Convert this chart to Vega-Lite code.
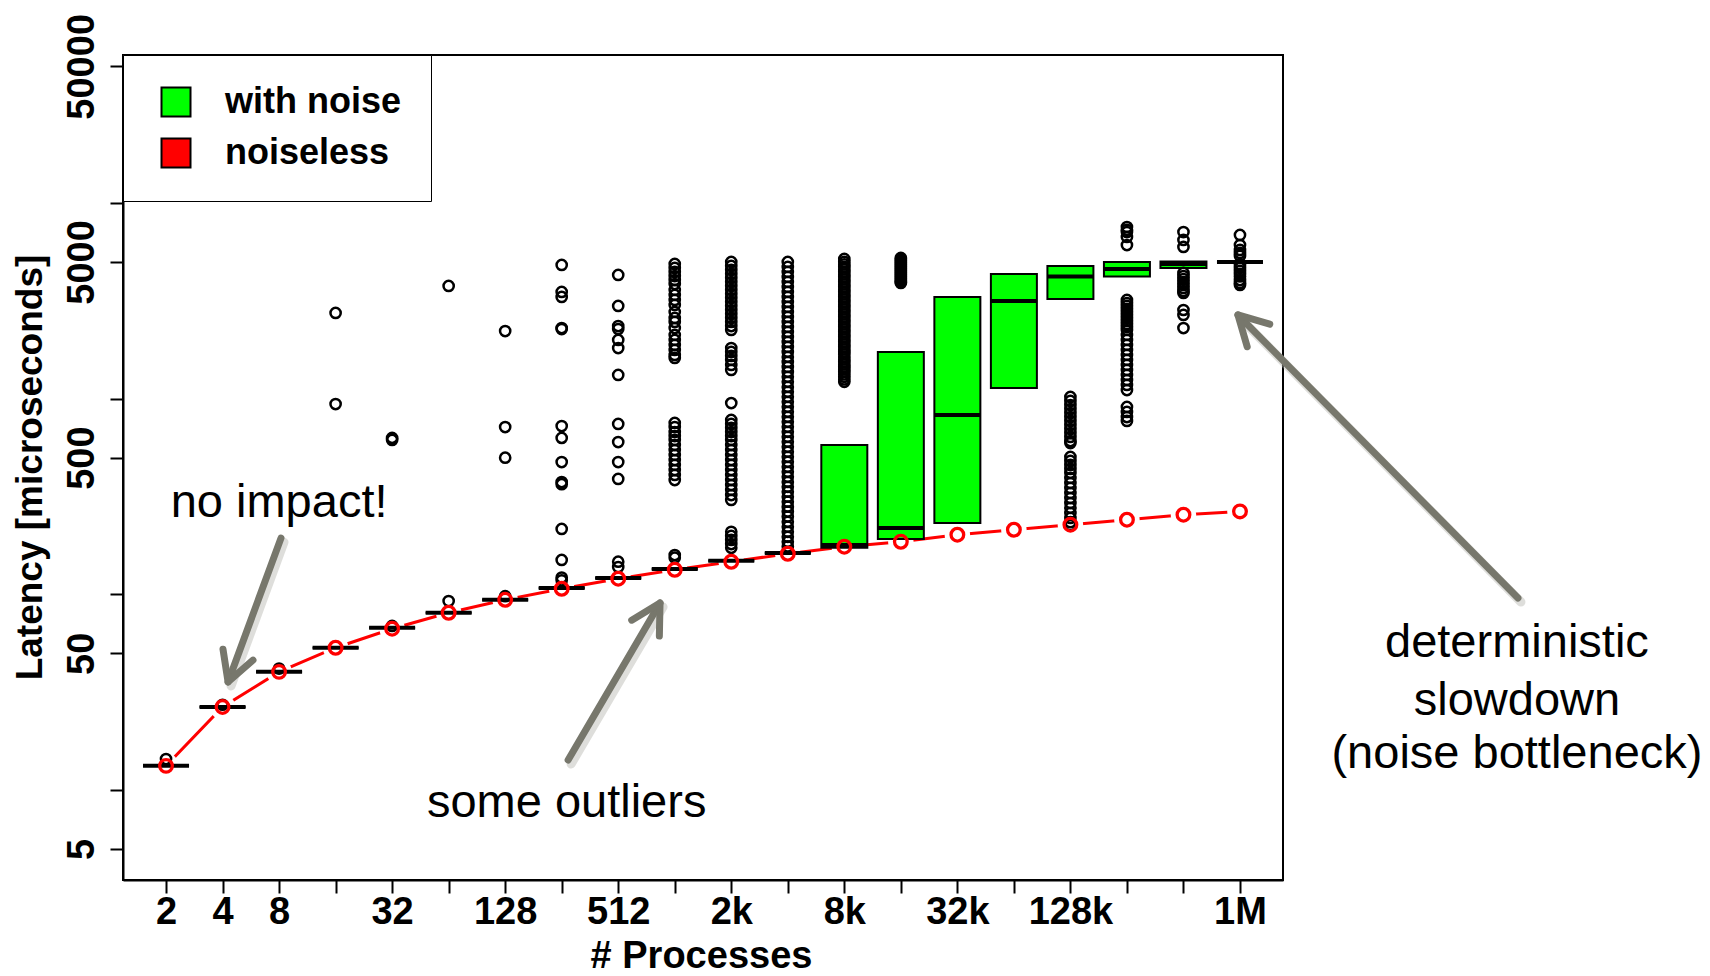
{
  "$schema": "https://vega.github.io/schema/vega-lite/v6.json",
  "width": 1160,
  "height": 825,
  "autosize": {"type": "none"},
  "padding": {"left": 123, "top": 55, "right": 427, "bottom": 96},
  "background": "white",
  "config": {
    "view": {"stroke": "black", "strokeWidth": 2},
    "font": "Liberation Sans",
    "scale": {"continuousPadding": 0},
    "legend": {
      "orient": "none", "legendX": 0, "legendY": 0,
      "padding": 29, "strokeColor": "black", "fillColor": "white",
      "labelFont": "Liberation Sans", "labelFontSize": 36, "labelFontWeight": "bold", "labelColor": "black", "labelLimit": 0,
      "symbolType": "square", "symbolSize": 841, "symbolStrokeColor": "black", "symbolStrokeWidth": 2,
      "labelOffset": 31, "rowPadding": 13, "symbolOffset": 6
    }
  },
  "datasets": {
    "noiseless": [
      {"procs": 2, "latency": 13.3}, {"procs": 4, "latency": 26.6}, {"procs": 8, "latency": 40.2},
      {"procs": 16, "latency": 53.4}, {"procs": 32, "latency": 66.8}, {"procs": 64, "latency": 80.6},
      {"procs": 128, "latency": 93.9}, {"procs": 256, "latency": 106.9}, {"procs": 512, "latency": 120.3},
      {"procs": 1024, "latency": 133.7}, {"procs": 2048, "latency": 146.9}, {"procs": 4096, "latency": 161.4},
      {"procs": 8192, "latency": 175.3}, {"procs": 16384, "latency": 185.9}, {"procs": 32768, "latency": 201.9},
      {"procs": 65536, "latency": 214.1}, {"procs": 131072, "latency": 227.1}, {"procs": 262144, "latency": 240.9},
      {"procs": 524288, "latency": 255.5}, {"procs": 1048576, "latency": 265.6}
    ],
    "boxes": [
      {"procs": 2, "q1": 13.3, "median": 13.3, "q3": 13.3, "series": "with noise"},
      {"procs": 4, "q1": 26.6, "median": 26.6, "q3": 26.6, "series": "with noise"},
      {"procs": 8, "q1": 40.2, "median": 40.2, "q3": 40.2, "series": "with noise"},
      {"procs": 16, "q1": 53.4, "median": 53.4, "q3": 53.4, "series": "with noise"},
      {"procs": 32, "q1": 67.5, "median": 67.5, "q3": 67.5, "series": "with noise"},
      {"procs": 64, "q1": 80.6, "median": 80.6, "q3": 80.6, "series": "with noise"},
      {"procs": 128, "q1": 93.9, "median": 93.9, "q3": 93.9, "series": "with noise"},
      {"procs": 256, "q1": 107.8, "median": 107.8, "q3": 107.8, "series": "with noise"},
      {"procs": 512, "q1": 121.2, "median": 121.2, "q3": 121.2, "series": "with noise"},
      {"procs": 1024, "q1": 134.8, "median": 134.8, "q3": 134.8, "series": "with noise"},
      {"procs": 2048, "q1": 148.7, "median": 148.7, "q3": 148.7, "series": "with noise"},
      {"procs": 4096, "q1": 162.7, "median": 162.7, "q3": 162.7, "series": "with noise"},
      {"procs": 8192, "q1": 173, "median": 179, "q3": 580, "series": "with noise"},
      {"procs": 16384, "q1": 192, "median": 218.5, "q3": 1734, "series": "with noise"},
      {"procs": 32768, "q1": 232, "median": 826, "q3": 3314, "series": "with noise"},
      {"procs": 65536, "q1": 1135, "median": 3159, "q3": 4342, "series": "with noise"},
      {"procs": 131072, "q1": 3235, "median": 4216, "q3": 4771, "series": "with noise"},
      {"procs": 262144, "q1": 4216, "median": 4605, "q3": 5000, "series": "with noise"},
      {"procs": 524288, "q1": 4659, "median": 4884, "q3": 5030, "series": "with noise"},
      {"procs": 1048576, "q1": 5000, "median": 5000, "q3": 5000, "series": "with noise"}
    ],
    "outliers": [
      {"procs": 2, "latency": 14.4}, {"procs": 4, "latency": 27.3}, {"procs": 8, "latency": 41.8},
      {"procs": 16, "latency": 2744}, {"procs": 16, "latency": 939},
      {"procs": 32, "latency": 631}, {"procs": 32, "latency": 616}, {"procs": 32, "latency": 69},
      {"procs": 64, "latency": 3770}, {"procs": 64, "latency": 92.5},
      {"procs": 128, "latency": 2219}, {"procs": 128, "latency": 717}, {"procs": 128, "latency": 500}, {"procs": 128, "latency": 98},
      {"procs": 256, "latency": 4827}, {"procs": 256, "latency": 3514}, {"procs": 256, "latency": 3314}, {"procs": 256, "latency": 2299},
      {"procs": 256, "latency": 2272}, {"procs": 256, "latency": 725}, {"procs": 256, "latency": 631}, {"procs": 256, "latency": 475},
      {"procs": 256, "latency": 375}, {"procs": 256, "latency": 366}, {"procs": 256, "latency": 216}, {"procs": 256, "latency": 150},
      {"procs": 256, "latency": 122}, {"procs": 256, "latency": 118},
      {"procs": 512, "latency": 4291}, {"procs": 512, "latency": 2980}, {"procs": 512, "latency": 2354}, {"procs": 512, "latency": 2272},
      {"procs": 512, "latency": 1997}, {"procs": 512, "latency": 1817}, {"procs": 512, "latency": 1323}, {"procs": 512, "latency": 744},
      {"procs": 512, "latency": 601}, {"procs": 512, "latency": 475}, {"procs": 512, "latency": 389}, {"procs": 512, "latency": 147},
      {"procs": 512, "latency": 138},
      {"procs": 1024, "latency": 4884}, {"procs": 1024, "latency": 4659}, {"procs": 1024, "latency": 4445}, {"procs": 1024, "latency": 4240},
      {"procs": 1024, "latency": 4045}, {"procs": 1024, "latency": 3859}, {"procs": 1024, "latency": 3597}, {"procs": 1024, "latency": 3392},
      {"procs": 1024, "latency": 3197}, {"procs": 1024, "latency": 3015}, {"procs": 1024, "latency": 2776}, {"procs": 1024, "latency": 2587},
      {"procs": 1024, "latency": 2468}, {"procs": 1024, "latency": 2299}, {"procs": 1024, "latency": 2118}, {"procs": 1024, "latency": 1997},
      {"procs": 1024, "latency": 1883}, {"procs": 1024, "latency": 1775}, {"procs": 1024, "latency": 1674}, {"procs": 1024, "latency": 1616},
      {"procs": 1024, "latency": 752}, {"procs": 1024, "latency": 717}, {"procs": 1024, "latency": 676}, {"procs": 1024, "latency": 645},
      {"procs": 1024, "latency": 616}, {"procs": 1024, "latency": 580}, {"procs": 1024, "latency": 547}, {"procs": 1024, "latency": 516},
      {"procs": 1024, "latency": 486}, {"procs": 1024, "latency": 459}, {"procs": 1024, "latency": 432}, {"procs": 1024, "latency": 408},
      {"procs": 1024, "latency": 384}, {"procs": 1024, "latency": 159}, {"procs": 1024, "latency": 154},
      {"procs": 2048, "latency": 5000}, {"procs": 2048, "latency": 4771}, {"procs": 2048, "latency": 4551}, {"procs": 2048, "latency": 4342},
      {"procs": 2048, "latency": 4142}, {"procs": 2048, "latency": 3950}, {"procs": 2048, "latency": 3770}, {"procs": 2048, "latency": 3597},
      {"procs": 2048, "latency": 3431}, {"procs": 2048, "latency": 3273}, {"procs": 2048, "latency": 3123}, {"procs": 2048, "latency": 2980},
      {"procs": 2048, "latency": 2842}, {"procs": 2048, "latency": 2712}, {"procs": 2048, "latency": 2587}, {"procs": 2048, "latency": 2468},
      {"procs": 2048, "latency": 2354}, {"procs": 2048, "latency": 2246}, {"procs": 2048, "latency": 1817}, {"procs": 2048, "latency": 1734},
      {"procs": 2048, "latency": 1654}, {"procs": 2048, "latency": 1578}, {"procs": 2048, "latency": 1488}, {"procs": 2048, "latency": 1403},
      {"procs": 2048, "latency": 950}, {"procs": 2048, "latency": 779}, {"procs": 2048, "latency": 744}, {"procs": 2048, "latency": 709},
      {"procs": 2048, "latency": 676}, {"procs": 2048, "latency": 645}, {"procs": 2048, "latency": 616}, {"procs": 2048, "latency": 580},
      {"procs": 2048, "latency": 547}, {"procs": 2048, "latency": 516}, {"procs": 2048, "latency": 486}, {"procs": 2048, "latency": 459},
      {"procs": 2048, "latency": 432}, {"procs": 2048, "latency": 408}, {"procs": 2048, "latency": 384}, {"procs": 2048, "latency": 362},
      {"procs": 2048, "latency": 342}, {"procs": 2048, "latency": 322}, {"procs": 2048, "latency": 304}, {"procs": 2048, "latency": 209},
      {"procs": 2048, "latency": 199}, {"procs": 2048, "latency": 190}, {"procs": 2048, "latency": 181}, {"procs": 2048, "latency": 173},
      {"procs": 4096, "latency": 5000}, {"procs": 4096, "latency": 4715}, {"procs": 4096, "latency": 4445}, {"procs": 4096, "latency": 4192},
      {"procs": 4096, "latency": 3952}, {"procs": 4096, "latency": 3727}, {"procs": 4096, "latency": 3514}, {"procs": 4096, "latency": 3313},
      {"procs": 4096, "latency": 3124}, {"procs": 4096, "latency": 2946}, {"procs": 4096, "latency": 2778}, {"procs": 4096, "latency": 2619},
      {"procs": 4096, "latency": 2470}, {"procs": 4096, "latency": 2329}, {"procs": 4096, "latency": 2196}, {"procs": 4096, "latency": 2070},
      {"procs": 4096, "latency": 1952}, {"procs": 4096, "latency": 1841}, {"procs": 4096, "latency": 1736}, {"procs": 4096, "latency": 1637},
      {"procs": 4096, "latency": 1543}, {"procs": 4096, "latency": 1455}, {"procs": 4096, "latency": 1372}, {"procs": 4096, "latency": 1294},
      {"procs": 4096, "latency": 1220}, {"procs": 4096, "latency": 1150}, {"procs": 4096, "latency": 1085}, {"procs": 4096, "latency": 1023},
      {"procs": 4096, "latency": 964}, {"procs": 4096, "latency": 909}, {"procs": 4096, "latency": 857}, {"procs": 4096, "latency": 808},
      {"procs": 4096, "latency": 762}, {"procs": 4096, "latency": 719}, {"procs": 4096, "latency": 678}, {"procs": 4096, "latency": 639},
      {"procs": 4096, "latency": 603}, {"procs": 4096, "latency": 568}, {"procs": 4096, "latency": 536}, {"procs": 4096, "latency": 505},
      {"procs": 4096, "latency": 476}, {"procs": 4096, "latency": 449}, {"procs": 4096, "latency": 423}, {"procs": 4096, "latency": 399},
      {"procs": 4096, "latency": 376}, {"procs": 4096, "latency": 355}, {"procs": 4096, "latency": 335}, {"procs": 4096, "latency": 316},
      {"procs": 4096, "latency": 298}, {"procs": 4096, "latency": 281}, {"procs": 4096, "latency": 265}, {"procs": 4096, "latency": 250},
      {"procs": 4096, "latency": 235}, {"procs": 4096, "latency": 222}, {"procs": 4096, "latency": 209}, {"procs": 4096, "latency": 197},
      {"procs": 4096, "latency": 186}, {"procs": 4096, "latency": 176},
      {"procs": 8192, "latency": 5180}, {"procs": 8192, "latency": 5000}, {"procs": 8192, "latency": 4855}, {"procs": 8192, "latency": 4715},
      {"procs": 8192, "latency": 4578}, {"procs": 8192, "latency": 4445}, {"procs": 8192, "latency": 4316}, {"procs": 8192, "latency": 4192},
      {"procs": 8192, "latency": 4070}, {"procs": 8192, "latency": 3952}, {"procs": 8192, "latency": 3837}, {"procs": 8192, "latency": 3727},
      {"procs": 8192, "latency": 3619}, {"procs": 8192, "latency": 3514}, {"procs": 8192, "latency": 3412}, {"procs": 8192, "latency": 3313},
      {"procs": 8192, "latency": 3217}, {"procs": 8192, "latency": 3124}, {"procs": 8192, "latency": 3033}, {"procs": 8192, "latency": 2946},
      {"procs": 8192, "latency": 2860}, {"procs": 8192, "latency": 2778}, {"procs": 8192, "latency": 2697}, {"procs": 8192, "latency": 2619},
      {"procs": 8192, "latency": 2543}, {"procs": 8192, "latency": 2470}, {"procs": 8192, "latency": 2398}, {"procs": 8192, "latency": 2329},
      {"procs": 8192, "latency": 2261}, {"procs": 8192, "latency": 2196}, {"procs": 8192, "latency": 2132}, {"procs": 8192, "latency": 2070},
      {"procs": 8192, "latency": 2010}, {"procs": 8192, "latency": 1952}, {"procs": 8192, "latency": 1895}, {"procs": 8192, "latency": 1841},
      {"procs": 8192, "latency": 1787}, {"procs": 8192, "latency": 1736}, {"procs": 8192, "latency": 1686}, {"procs": 8192, "latency": 1637},
      {"procs": 8192, "latency": 1589}, {"procs": 8192, "latency": 1543}, {"procs": 8192, "latency": 1498}, {"procs": 8192, "latency": 1455},
      {"procs": 8192, "latency": 1413}, {"procs": 8192, "latency": 1372}, {"procs": 8192, "latency": 1332}, {"procs": 8192, "latency": 1294},
      {"procs": 8192, "latency": 1256}, {"procs": 8192, "latency": 1220},
      {"procs": 16384, "latency": 5241}, {"procs": 16384, "latency": 5119}, {"procs": 16384, "latency": 5000}, {"procs": 16384, "latency": 4884},
      {"procs": 16384, "latency": 4771}, {"procs": 16384, "latency": 4660}, {"procs": 16384, "latency": 4551}, {"procs": 16384, "latency": 4445},
      {"procs": 16384, "latency": 4342}, {"procs": 16384, "latency": 4240}, {"procs": 16384, "latency": 4142}, {"procs": 16384, "latency": 4045},
      {"procs": 16384, "latency": 3950}, {"procs": 16384, "latency": 3905},
      {"procs": 131072, "latency": 1021}, {"procs": 131072, "latency": 975}, {"procs": 131072, "latency": 929}, {"procs": 131072, "latency": 886},
      {"procs": 131072, "latency": 845}, {"procs": 131072, "latency": 806}, {"procs": 131072, "latency": 770}, {"procs": 131072, "latency": 734},
      {"procs": 131072, "latency": 700}, {"procs": 131072, "latency": 668}, {"procs": 131072, "latency": 638}, {"procs": 131072, "latency": 608},
      {"procs": 131072, "latency": 594}, {"procs": 131072, "latency": 504}, {"procs": 131072, "latency": 481}, {"procs": 131072, "latency": 459},
      {"procs": 131072, "latency": 438}, {"procs": 131072, "latency": 418}, {"procs": 131072, "latency": 394}, {"procs": 131072, "latency": 371},
      {"procs": 131072, "latency": 350}, {"procs": 131072, "latency": 330}, {"procs": 131072, "latency": 311}, {"procs": 131072, "latency": 293},
      {"procs": 131072, "latency": 277}, {"procs": 131072, "latency": 261}, {"procs": 131072, "latency": 246}, {"procs": 131072, "latency": 234},
      {"procs": 131072, "latency": 226},
      {"procs": 262144, "latency": 7545}, {"procs": 262144, "latency": 7300}, {"procs": 262144, "latency": 7116}, {"procs": 262144, "latency": 6711},
      {"procs": 262144, "latency": 6106}, {"procs": 262144, "latency": 3197}, {"procs": 262144, "latency": 3086}, {"procs": 262144, "latency": 2980},
      {"procs": 262144, "latency": 2876}, {"procs": 262144, "latency": 2776}, {"procs": 262144, "latency": 2680}, {"procs": 262144, "latency": 2587},
      {"procs": 262144, "latency": 2497}, {"procs": 262144, "latency": 2411}, {"procs": 262144, "latency": 2327}, {"procs": 262144, "latency": 2246},
      {"procs": 262144, "latency": 2118}, {"procs": 262144, "latency": 1997}, {"procs": 262144, "latency": 1883}, {"procs": 262144, "latency": 1775},
      {"procs": 262144, "latency": 1674}, {"procs": 262144, "latency": 1578}, {"procs": 262144, "latency": 1488}, {"procs": 262144, "latency": 1403},
      {"procs": 262144, "latency": 1323}, {"procs": 262144, "latency": 1247}, {"procs": 262144, "latency": 1176}, {"procs": 262144, "latency": 1108},
      {"procs": 262144, "latency": 908}, {"procs": 262144, "latency": 856}, {"procs": 262144, "latency": 806}, {"procs": 262144, "latency": 770},
      {"procs": 524288, "latency": 7116}, {"procs": 524288, "latency": 6479}, {"procs": 524288, "latency": 5965}, {"procs": 524288, "latency": 4393},
      {"procs": 524288, "latency": 4240}, {"procs": 524288, "latency": 4093}, {"procs": 524288, "latency": 3950}, {"procs": 524288, "latency": 3815},
      {"procs": 524288, "latency": 3682}, {"procs": 524288, "latency": 3554}, {"procs": 524288, "latency": 3472}, {"procs": 524288, "latency": 2842},
      {"procs": 524288, "latency": 2680}, {"procs": 524288, "latency": 2299},
      {"procs": 1048576, "latency": 6872}, {"procs": 1048576, "latency": 6106}, {"procs": 1048576, "latency": 5761}, {"procs": 1048576, "latency": 5561},
      {"procs": 1048576, "latency": 5370}, {"procs": 1048576, "latency": 4827}, {"procs": 1048576, "latency": 4660}, {"procs": 1048576, "latency": 4500},
      {"procs": 1048576, "latency": 4342}, {"procs": 1048576, "latency": 4216}, {"procs": 1048576, "latency": 4045}, {"procs": 1048576, "latency": 3905},
      {"procs": 1048576, "latency": 3815}
    ],
    "arrows": [
      {"fromProcs": 8.19, "fromLatency": 194, "toProcs": 4.28, "toLatency": 35.7, "heading": 200},
      {"fromProcs": 277, "fromLatency": 14.25, "toProcs": 855, "toLatency": 90.4, "heading": 30},
      {"fromProcs": 31700000, "fromLatency": 95.9, "toProcs": 1023000, "toLatency": 2680, "heading": 315}
    ],
    "notes": [
      {"procs": 8, "latency": 248.7, "text": "no impact!"},
      {"procs": 272, "latency": 7.29, "text": "some outliers"},
      {"procs": 31300000, "latency": 47.9, "text": "deterministic"},
      {"procs": 31300000, "latency": 24.2, "text": "slowdown"},
      {"procs": 31300000, "latency": 12.97, "text": "(noise bottleneck)"}
    ]
  },
  "layer": [
    {
      "data": {"name": "noiseless"},
      "mark": {"type": "line", "color": "#ff0000", "strokeWidth": 3},
      "encoding": {
        "x": {
          "field": "procs", "type": "quantitative",
          "scale": {"type": "log", "base": 2, "domain": [1.18, 1777000], "nice": false, "padding": 0},
          "axis": {
            "title": "# Processes",
            "values": [2, 4, 8, 16, 32, 64, 128, 256, 512, 1024, 2048, 4096, 8192, 16384, 32768, 65536, 131072, 262144, 524288, 1048576],
            "labelExpr": "datum.value==2||datum.value==4||datum.value==8||datum.value==32||datum.value==128||datum.value==512 ? ''+datum.value : datum.value==2048 ? '2k' : datum.value==8192 ? '8k' : datum.value==32768 ? '32k' : datum.value==131072 ? '128k' : datum.value==1048576 ? '1M' : ''",
            "labelOverlap": false, "labelFlush": false, "labelBound": false, "grid": false,
            "tickSize": 13, "tickWidth": 2, "tickColor": "black", "domainColor": "black", "domainWidth": 2,
            "labelFont": "Liberation Sans", "labelFontSize": 38, "labelFontWeight": "bold", "labelColor": "black",
            "labelAngle": 0, "labelAlign": "center", "labelBaseline": "alphabetic", "labelPadding": 30,
            "titleFont": "Liberation Sans", "titleFontSize": 38, "titleFontWeight": "bold", "titleColor": "black",
            "titleX": 578, "titleY": 87, "titleAlign": "center", "titleBaseline": "alphabetic"
          }
        },
        "y": {
          "field": "latency", "type": "quantitative",
          "scale": {"type": "log", "domain": [3.4715, 57127], "nice": false, "padding": 0},
          "axis": {
            "title": "Latency [microseconds]",
            "values": [5, 10, 50, 100, 500, 1000, 5000, 10000, 50000],
            "labelExpr": "(datum.value==5||datum.value==50||datum.value==500||datum.value==5000||datum.value==50000) ? ''+datum.value : ''",
            "labelOverlap": false, "labelFlush": false, "labelBound": false, "grid": false,
            "tickSize": 13, "tickWidth": 2, "tickColor": "black", "domainColor": "black", "domainWidth": 2,
            "labelFont": "Liberation Sans", "labelFontSize": 38, "labelFontWeight": "bold", "labelColor": "black",
            "labelAngle": 270, "labelAlign": "center", "labelBaseline": "alphabetic", "labelPadding": 17,
            "titleFont": "Liberation Sans", "titleFontSize": 37, "titleFontWeight": "bold", "titleColor": "black",
            "titleAngle": 270, "titleX": -82, "titleY": 412, "titleAlign": "center", "titleBaseline": "alphabetic"
          }
        }
      }
    },
    {
      "data": {"name": "noiseless"},
      "mark": {"type": "point", "filled": true, "color": "white", "size": 650, "opacity": 1, "strokeWidth": 0},
      "encoding": {
        "x": {"field": "procs", "type": "quantitative", "scale": {"type": "log", "base": 2, "domain": [1.18, 1777000], "nice": false, "padding": 0}},
        "y": {"field": "latency", "type": "quantitative", "scale": {"type": "log", "domain": [3.4715, 57127], "nice": false, "padding": 0}}
      }
    },
    {
      "data": {"name": "boxes"},
      "mark": {"type": "bar", "size": 46, "stroke": "black", "strokeWidth": 2, "opacity": 1},
      "encoding": {
        "x": {"field": "procs", "type": "quantitative", "scale": {"type": "log", "base": 2, "domain": [1.18, 1777000], "nice": false, "padding": 0}},
        "y": {"field": "q3", "type": "quantitative", "scale": {"type": "log", "domain": [3.4715, 57127], "nice": false, "padding": 0}},
        "y2": {"field": "q1"},
        "color": {
          "field": "series", "type": "nominal",
          "scale": {"domain": ["with noise", "noiseless"], "range": ["#00ff00", "#ff0000"]},
          "legend": {"title": null}
        }
      }
    },
    {
      "data": {"name": "boxes"},
      "mark": {"type": "tick", "orient": "horizontal", "size": 46, "thickness": 4, "color": "black", "opacity": 1},
      "encoding": {
        "x": {"field": "procs", "type": "quantitative", "scale": {"type": "log", "base": 2, "domain": [1.18, 1777000], "nice": false, "padding": 0}},
        "y": {"field": "median", "type": "quantitative", "scale": {"type": "log", "domain": [3.4715, 57127], "nice": false, "padding": 0}}
      }
    },
    {
      "data": {"name": "outliers"},
      "mark": {"type": "point", "filled": false, "color": "black", "size": 105, "strokeWidth": 2.5, "opacity": 1},
      "encoding": {
        "x": {"field": "procs", "type": "quantitative", "scale": {"type": "log", "base": 2, "domain": [1.18, 1777000], "nice": false, "padding": 0}},
        "y": {"field": "latency", "type": "quantitative", "scale": {"type": "log", "domain": [3.4715, 57127], "nice": false, "padding": 0}}
      }
    },
    {
      "data": {"name": "noiseless"},
      "mark": {"type": "point", "filled": false, "color": "#ff0000", "size": 160, "strokeWidth": 3.3, "opacity": 1},
      "encoding": {
        "x": {"field": "procs", "type": "quantitative", "scale": {"type": "log", "base": 2, "domain": [1.18, 1777000], "nice": false, "padding": 0}},
        "y": {"field": "latency", "type": "quantitative", "scale": {"type": "log", "domain": [3.4715, 57127], "nice": false, "padding": 0}}
      }
    },
    {
      "data": {"name": "arrows"},
      "mark": {"type": "rule", "color": "#b5b5b0", "strokeWidth": 9, "strokeCap": "round", "opacity": 0.45, "xOffset": 3, "x2Offset": 3, "yOffset": 4, "y2Offset": 4},
      "encoding": {
        "x": {"field": "fromProcs", "type": "quantitative", "scale": {"type": "log", "base": 2, "domain": [1.18, 1777000], "nice": false, "padding": 0}},
        "y": {"field": "fromLatency", "type": "quantitative", "scale": {"type": "log", "domain": [3.4715, 57127], "nice": false, "padding": 0}},
        "x2": {"field": "toProcs"},
        "y2": {"field": "toLatency"}
      }
    },
    {
      "data": {"name": "arrows"},
      "mark": {"type": "rule", "color": "#77776c", "strokeWidth": 7, "strokeCap": "round"},
      "encoding": {
        "x": {"field": "fromProcs", "type": "quantitative", "scale": {"type": "log", "base": 2, "domain": [1.18, 1777000], "nice": false, "padding": 0}},
        "y": {"field": "fromLatency", "type": "quantitative", "scale": {"type": "log", "domain": [3.4715, 57127], "nice": false, "padding": 0}},
        "x2": {"field": "toProcs"},
        "y2": {"field": "toLatency"}
      }
    },
    {
      "data": {"name": "arrows"},
      "mark": {"type": "point", "shape": "M-0.55,1L0,0L0.55,1", "filled": false, "color": "#77776c", "size": 3364, "strokeWidth": 7, "strokeCap": "round", "strokeJoin": "round", "opacity": 1},
      "encoding": {
        "x": {"field": "toProcs", "type": "quantitative", "scale": {"type": "log", "base": 2, "domain": [1.18, 1777000], "nice": false, "padding": 0}},
        "y": {"field": "toLatency", "type": "quantitative", "scale": {"type": "log", "domain": [3.4715, 57127], "nice": false, "padding": 0}},
        "angle": {"field": "heading", "type": "quantitative", "scale": null}
      }
    },
    {
      "data": {"name": "notes"},
      "mark": {"type": "text", "font": "Liberation Sans", "fontSize": 47, "color": "black", "align": "center", "baseline": "alphabetic"},
      "encoding": {
        "x": {"field": "procs", "type": "quantitative", "scale": {"type": "log", "base": 2, "domain": [1.18, 1777000], "nice": false, "padding": 0}},
        "y": {"field": "latency", "type": "quantitative", "scale": {"type": "log", "domain": [3.4715, 57127], "nice": false, "padding": 0}},
        "text": {"field": "text"}
      }
    }
  ]
}
